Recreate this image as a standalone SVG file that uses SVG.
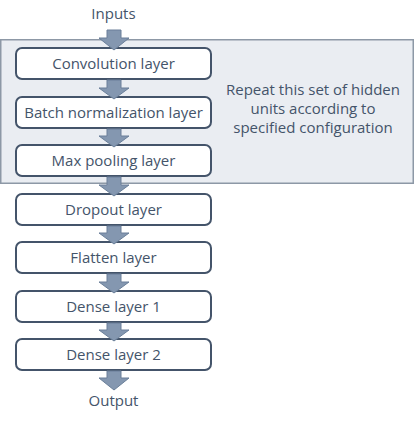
<svg xmlns="http://www.w3.org/2000/svg" width="415" height="422" viewBox="0 0 415 422">
<defs>
<style>
.node rect{fill:#ffffff;stroke:#44546a;stroke-width:2}
.group{fill:#eaedf2;stroke:#8d98a6;stroke-width:1.5}
text{font-family:"Open Sans","Liberation Sans",sans-serif;font-size:15px;fill:#44546a;text-anchor:middle}
.arrow{fill:#8497b0;stroke:#6a7f99;stroke-width:1}
</style>
</defs>
<rect class="group" x="0.75" y="39.75" width="412.5" height="143.5"/>
<text x="313" y="95">Repeat this set of hidden</text>
<text x="313" y="114">units according to</text>
<text x="313" y="133">specified configuration</text>
<text x="113.5" y="19">Inputs</text>
<text x="113.5" y="406">Output</text>
<g id="n1" class="node"><rect x="16" y="48" width="195" height="31" rx="6"/><text x="113.5" y="68.5">Convolution layer</text></g>
<g id="n2" class="node"><rect x="16" y="97" width="195" height="31" rx="6"/><text x="113.5" y="117.5">Batch normalization layer</text></g>
<g id="n3" class="node"><rect x="16" y="145" width="195" height="31" rx="6"/><text x="113.5" y="165.5">Max pooling layer</text></g>
<g id="n4" class="node"><rect x="16" y="194" width="195" height="31" rx="6"/><text x="113.5" y="214.5">Dropout layer</text></g>
<g id="n5" class="node"><rect x="16" y="242" width="195" height="31" rx="6"/><text x="113.5" y="262.5">Flatten layer</text></g>
<g id="n6" class="node"><rect x="16" y="291" width="195" height="31" rx="6"/><text x="113.5" y="311.5">Dense layer 1</text></g>
<g id="n7" class="node"><rect x="16" y="339" width="195" height="31" rx="6"/><text x="113.5" y="359.5">Dense layer 2</text></g>
<g id="connectors" class="arrow">
<path d="M107,30 H121 V38 H129 L114,50 L99,38 H107 Z"/>
<path d="M107,80 H121 V88 H129 L114,99 L99,88 H107 Z"/>
<path d="M107,129 H121 V136 H129 L114,147 L99,136 H107 Z"/>
<path d="M107,177 H121 V185 H129 L114,196 L99,185 H107 Z"/>
<path d="M107,226 H121 V233 H129 L114,244 L99,233 H107 Z"/>
<path d="M107,274 H121 V282 H129 L114,293 L99,282 H107 Z"/>
<path d="M107,323 H121 V330 H129 L114,341 L99,330 H107 Z"/>
<path d="M107,371 H121 V378 H129 L114,390 L99,378 H107 Z"/>
</g>
</svg>
